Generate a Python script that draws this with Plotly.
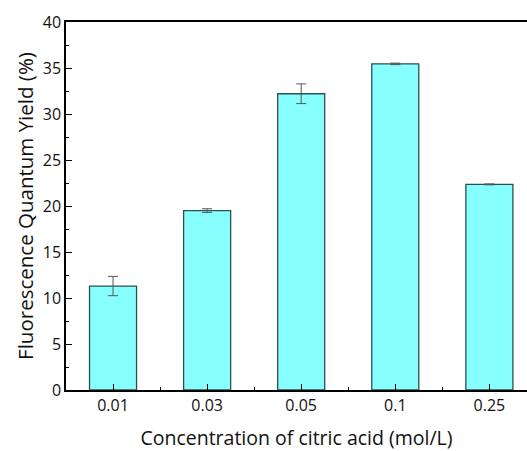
import plotly.graph_objects as go

categories = ["0.01", "0.03", "0.05", "0.1", "0.25"]
values = [11.3, 19.5, 32.2, 35.45, 22.35]
errors = [1.05, 0.2, 1.07, 0.08, 0.05]

x_pos = list(range(len(categories)))

fig = go.Figure()
fig.add_trace(go.Bar(
    x=x_pos, y=values, width=0.5,
    marker=dict(color="#88FFFF", line=dict(color="#2f4f4f", width=1.3)),
    error_y=dict(type="data", array=errors, visible=True, color="#555555", thickness=1, width=5),
))

font_family = "Open Sans, Noto Sans, DejaVu Sans, sans-serif"
fig.update_layout(
    width=527, height=451,
    margin=dict(l=66, r=0, t=22, b=61),
    paper_bgcolor="white", plot_bgcolor="white",
    font=dict(family=font_family, color="#111111", size=16),
    showlegend=False,
)
fig.update_xaxes(
    automargin=False,
    range=[-0.5, 4.4],
    tickmode="array", tickvals=x_pos, ticktext=categories,
    ticks="inside", ticklen=6, tickwidth=1.3, tickcolor="black",
    minor=dict(tickmode="array", tickvals=[0.5, 1.5, 2.5, 3.5], ticks="inside", ticklen=3, tickwidth=1.3, tickcolor="black"),
    showline=True, linecolor="black", linewidth=1.5, mirror=True,
    showgrid=False, zeroline=False,
    tickfont=dict(size=16),
    title=dict(text="Concentration of citric acid (mol/L)", font=dict(size=19.5), standoff=16),
)
fig.update_yaxes(
    automargin=False,
    range=[0, 40], dtick=5,
    ticks="inside", ticklen=6, tickwidth=1.3, tickcolor="black",
    minor=dict(dtick=2.5, ticks="inside", ticklen=3, tickwidth=1.3, tickcolor="black"),
    showline=True, linecolor="black", linewidth=1.5,
    showgrid=False, zeroline=False,
    tickfont=dict(size=16),
    title=dict(text="Fluorescence Quantum Yield (%)", font=dict(size=20.5), standoff=4),
)
fig.write_html(
    "out.html",
    config={"displayModeBar": False},
    post_script="document.body.style.margin='0';document.body.style.overflow='hidden';",
)
